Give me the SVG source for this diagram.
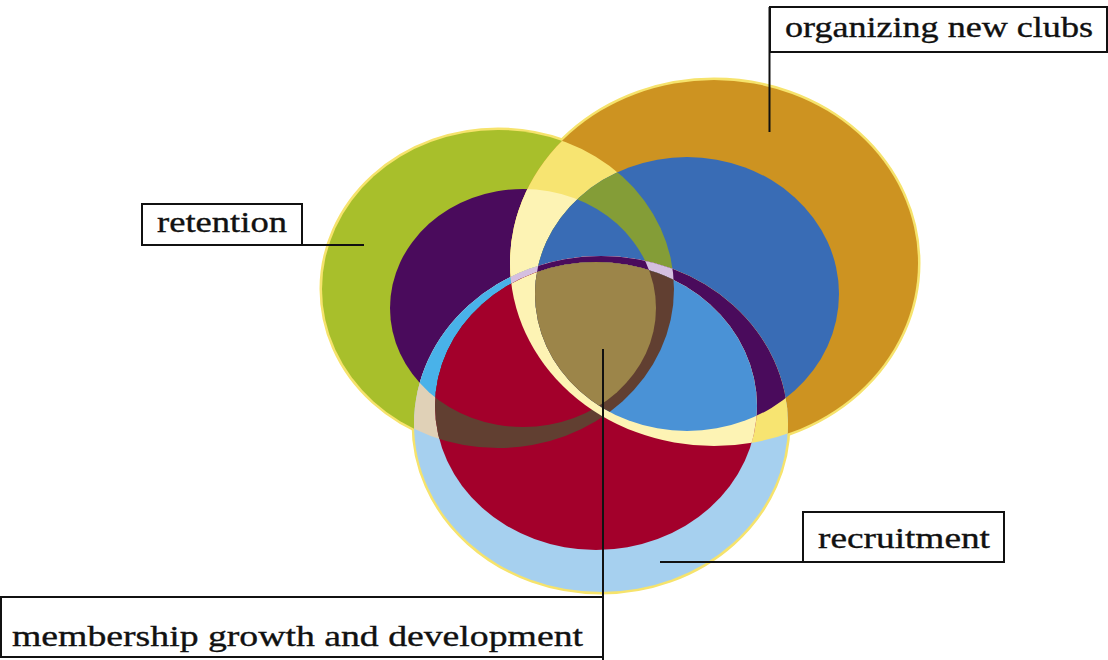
<svg xmlns="http://www.w3.org/2000/svg" width="1108" height="660" viewBox="0 0 1108 660">
<style>
.lbl{font-family:"Liberation Serif","Times New Roman",serif;font-size:30px;fill:#111;stroke:#111;stroke-width:0.35;}
.box{fill:#fff;stroke:#111;stroke-width:2;}
.ld{stroke:#111;stroke-width:2;fill:none;}
</style>
<defs>
<ellipse id="Go" cx="498" cy="289" rx="176" ry="159"/>
<ellipse id="Gi" cx="523" cy="308" rx="133" ry="119"/>
<ellipse id="Oo" cx="714" cy="263" rx="204" ry="183"/>
<ellipse id="Oi" cx="687" cy="294" rx="152" ry="137"/>
<ellipse id="Bo" cx="601" cy="424" rx="187" ry="168"/>
<ellipse id="Bi" cx="596" cy="406" rx="161" ry="144"/>
<clipPath id="cGo"><use href="#Go"/></clipPath>
<clipPath id="cGi"><use href="#Gi"/></clipPath>
<clipPath id="cOo"><use href="#Oo"/></clipPath>
<clipPath id="cOi"><use href="#Oi"/></clipPath>
</defs>
<rect width="1108" height="660" fill="#fff"/>
<g id="outlines" fill="none" stroke="#f6e36c" stroke-width="5">
<use href="#Go"/><use href="#Oo"/><use href="#Bo"/>
</g>
<g id="retention-circle">
<use href="#Go" fill="#a8bf2b"/>
<use href="#Gi" fill="#4a0b5c"/>
</g>
<g id="clubs-circle">
<use href="#Oo" fill="#cd9321"/>
<use href="#Oo" fill="#f7e471" clip-path="url(#cGo)"/>
<use href="#Oo" fill="#fdf3b4" clip-path="url(#cGi)"/>
<use href="#Oi" fill="#396cb5"/>
<use href="#Oi" fill="#849d37" clip-path="url(#cGo)"/>
<use href="#Oi" fill="#396cb5" clip-path="url(#cGi)"/>
</g>
<g id="recruitment-circle">
<use href="#Bo" fill="#a6d0ef"/>
<use href="#Bo" fill="#e0d1b7" clip-path="url(#cGo)"/>
<use href="#Bo" fill="#49b2e9" clip-path="url(#cGi)"/>
<use href="#Bo" fill="#f7e471" clip-path="url(#cOo)"/>
<use href="#Bo" fill="#4a0b5c" clip-path="url(#cOi)"/>
<g clip-path="url(#cGi)"><use href="#Bo" fill="#d5bfe0" clip-path="url(#cOo)"/></g>
<g clip-path="url(#cGo)"><use href="#Bo" fill="#d5bfe0" clip-path="url(#cOi)"/></g>
<g clip-path="url(#cGi)"><use href="#Bo" fill="#4a0b5c" clip-path="url(#cOi)"/></g>
<use href="#Bi" fill="#a3002b"/>
<use href="#Bi" fill="#613f31" clip-path="url(#cGo)"/>
<use href="#Bi" fill="#a3002b" clip-path="url(#cGi)"/>
<use href="#Bi" fill="#fdf3b4" clip-path="url(#cOo)"/>
<use href="#Bi" fill="#4a92d6" clip-path="url(#cOi)"/>
<g clip-path="url(#cGo)"><use href="#Bi" fill="#613f31" clip-path="url(#cOi)"/></g>
<g clip-path="url(#cGi)"><use href="#Bi" fill="#9c8549" clip-path="url(#cOi)"/></g>
</g>
<g id="connectors">
<line class="ld" x1="302" y1="245" x2="364" y2="245"/>
<line class="ld" x1="769.5" y1="7" x2="769.5" y2="132"/>
<line class="ld" x1="660" y1="562" x2="803" y2="562"/>
<line class="ld" x1="603" y1="349" x2="603" y2="660"/>
</g>
<g id="label-clubs">
<rect class="box" x="770" y="7" width="337" height="45"/>
<text class="lbl" x="785" y="37" textLength="308" lengthAdjust="spacingAndGlyphs">organizing new clubs</text>
</g>
<g id="label-retention">
<rect class="box" x="142" y="204" width="160" height="41"/>
<text class="lbl" x="157" y="232" textLength="130" lengthAdjust="spacingAndGlyphs">retention</text>
</g>
<g id="label-recruitment">
<rect class="box" x="803" y="512" width="201" height="50"/>
<text class="lbl" x="818" y="548" textLength="172" lengthAdjust="spacingAndGlyphs">recruitment</text>
</g>
<g id="label-membership">
<rect class="box" x="1" y="597" width="602" height="60"/>
<text class="lbl" x="12" y="646" textLength="571" lengthAdjust="spacingAndGlyphs">membership growth and development</text>
</g>
</svg>
